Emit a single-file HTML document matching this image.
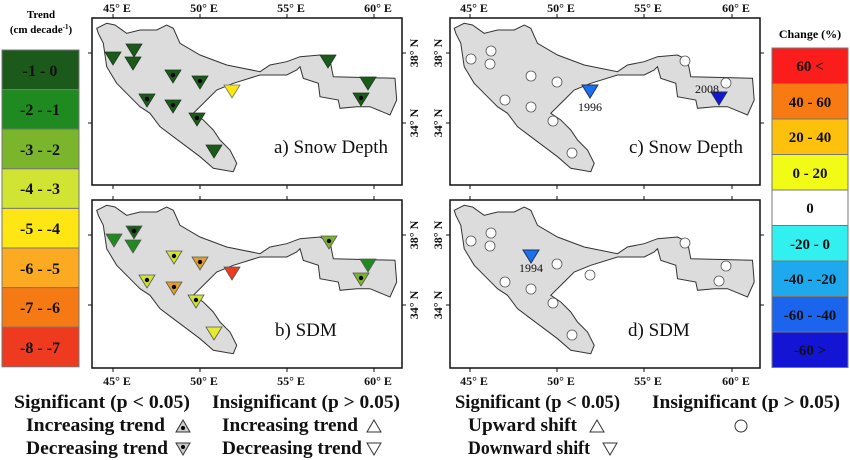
<!DOCTYPE html>
<html><head><meta charset="utf-8"><style>
body{margin:0;background:#fff;}
svg{display:block;font-family:"Liberation Serif",serif;}
.b{font-weight:bold;}
</style></head><body>
<svg width="850" height="460" viewBox="0 0 850 460" xmlns="http://www.w3.org/2000/svg">
<defs>
<path id="shp" d="M96.7,28.3 L106.7,23.3 115,25 126.7,33.3 140,30 156.7,30 166.7,25 173.3,28.3 180,43.3 200,55 226.7,65 260,71.7 270,65 286.7,61.7 300,56.7 320,55 330,60 333.3,76.7 395,78.3 396.7,100 390,115 370,106.7 356.7,106.7 340,108.3 338.3,100 320,96.7 318.3,83.3 303.3,78.3 300,66.7 296.7,70 286.7,75 260,75 233.3,83.3 216.7,90 206.7,100 193.3,113.3 203.3,120 213.3,130 220,140 230,150 236.7,163.3 233.3,171.7 223.3,170 213.3,168.3 200,156.7 186.7,146.7 173.3,136.7 160,126.7 150,113.3 140,106.7 130,96.7 116.7,83.3 106.7,66.7 103.3,43.3 98.3,33.3 Z" fill="#dcdcdc" stroke="#333" stroke-width="1"/>
<path id="tri" d="M-8,-6 L8,-6 L0,7 Z"/>
</defs>

<text x="41" y="18" text-anchor="middle" font-size="11" class="b">Trend</text>
<text x="41" y="33" text-anchor="middle" font-size="11" class="b">(cm decade<tspan font-size="7" dy="-4">-1</tspan><tspan dy="4">)</tspan></text>
<g stroke="#777" stroke-width="1">
<rect x="2" y="50" width="77" height="39.6" fill="#1b5a1b"/>
<rect x="2" y="89.6" width="77" height="39.6" fill="#1f8a20"/>
<rect x="2" y="129.2" width="77" height="39.6" fill="#7bb52c"/>
<rect x="2" y="168.8" width="77" height="39.6" fill="#d2e433"/>
<rect x="2" y="208.4" width="77" height="39.6" fill="#fde613"/>
<rect x="2" y="248" width="77" height="39.6" fill="#fbaa22"/>
<rect x="2" y="287.6" width="77" height="39.6" fill="#f57a14"/>
<rect x="2" y="327.2" width="77" height="39.6" fill="#ee3a1e"/>
</g>
<g font-size="16" class="b" text-anchor="middle" fill="#111">
<text x="40" y="76">-1  -  0</text>
<text x="40" y="115">-2  -  -1</text>
<text x="40" y="155">-3  -  -2</text>
<text x="40" y="194">-4  -  -3</text>
<text x="40" y="234">-5  -  -4</text>
<text x="40" y="274">-6  -  -5</text>
<text x="40" y="313">-7  -  -6</text>
<text x="40" y="353">-8  -  -7</text>
</g>

<text x="810" y="38" text-anchor="middle" font-size="12" class="b">Change (%)</text>
<g stroke="#777" stroke-width="1">
<rect x="772" y="48" width="76" height="35.5" fill="#fb1c1c"/>
<rect x="772" y="83.5" width="76" height="35.5" fill="#f87a12"/>
<rect x="772" y="119" width="76" height="35.5" fill="#fdc00c"/>
<rect x="772" y="154.5" width="76" height="35.5" fill="#f2fb16"/>
<rect x="772" y="190" width="76" height="35.5" fill="#fff"/>
<rect x="772" y="225.5" width="76" height="35.5" fill="#33f0f0"/>
<rect x="772" y="261" width="76" height="35.5" fill="#1ea8ee"/>
<rect x="772" y="296.5" width="76" height="35.5" fill="#1a64ee"/>
<rect x="772" y="332" width="76" height="35.5" fill="#1414d4"/>
</g>
<g font-size="15" class="b" text-anchor="middle" fill="#111">
<text x="810" y="71">60 &lt;</text>
<text x="810" y="107">40 - 60</text>
<text x="810" y="142">20 - 40</text>
<text x="810" y="178">0 - 20</text>
<text x="810" y="213">0</text>
<text x="810" y="249">-20 - 0</text>
<text x="810" y="284">-40 - -20</text>
<text x="810" y="320">-60 - -40</text>
<text x="810" y="355">-60 &gt;</text>
</g>

<rect x="92" y="18" width="310" height="167" fill="#fff" stroke="#111" stroke-width="1.5"/>
<use href="#shp"/>
<rect x="92" y="200" width="310" height="168" fill="#fff" stroke="#111" stroke-width="1.5"/>
<use href="#shp" transform="translate(0,182)"/>
<rect x="450" y="18" width="310" height="167" fill="#fff" stroke="#111" stroke-width="1.5"/>
<use href="#shp" transform="translate(357.5,0)"/>
<rect x="450" y="200" width="310" height="168" fill="#fff" stroke="#111" stroke-width="1.5"/>
<use href="#shp" transform="translate(357.5,182)"/>

<g stroke="#111" stroke-width="1">
<path d="M113,14v4 M200,14v4 M287,14v4 M374,14v4 M113,185v4 M200,185v4 M287,185v4 M374,185v4 M113,196v4 M200,196v4 M287,196v4 M374,196v4 M113,368v4 M200,368v4 M287,368v4 M374,368v4"/>
<path d="M402,53h4 M402,123h4 M402,235h4 M402,305h4 M92,53h-4 M92,123h-4 M92,235h-4 M92,305h-4"/>
<path d="M470,14v4 M557,14v4 M644,14v4 M732,14v4 M470,185v4 M557,185v4 M644,185v4 M732,185v4 M470,196v4 M557,196v4 M644,196v4 M732,196v4 M470,368v4 M557,368v4 M644,368v4 M732,368v4"/>
<path d="M450,53h-4 M450,123h-4 M450,235h-4 M450,305h-4 M760,53h4 M760,123h4 M760,235h4 M760,305h4"/>
</g>
<g font-size="12" class="b" fill="#111" text-anchor="middle">
<text x="117" y="12">45° E</text><text x="204" y="12">50° E</text><text x="291" y="12">55° E</text><text x="378" y="12">60° E</text>
<text x="117" y="385">45° E</text><text x="204" y="385">50° E</text><text x="291" y="385">55° E</text><text x="378" y="385">60° E</text>
<text x="474" y="12">45° E</text><text x="561" y="12">50° E</text><text x="648" y="12">55° E</text><text x="736" y="12">60° E</text>
<text x="474" y="385">45° E</text><text x="561" y="385">50° E</text><text x="648" y="385">55° E</text><text x="736" y="385">60° E</text>
<text transform="translate(418,53) rotate(-90)">38° N</text>
<text transform="translate(418,123) rotate(-90)">34° N</text>
<text transform="translate(418,235) rotate(-90)">38° N</text>
<text transform="translate(418,305) rotate(-90)">34° N</text>
<text transform="translate(442,53) rotate(-90)">38° N</text>
<text transform="translate(442,123) rotate(-90)">34° N</text>
<text transform="translate(442,235) rotate(-90)">38° N</text>
<text transform="translate(442,305) rotate(-90)">34° N</text>
</g>

<g font-size="19" fill="#111">
<text x="274" y="153">a) Snow Depth</text>
<text x="275" y="336">b) SDM</text>
<text x="629" y="153">c) Snow Depth</text>
<text x="628" y="336">d) SDM</text>
</g>

<g stroke="#1b3a1b" stroke-width="0.8" fill="#1b5a1b">
<use href="#tri" x="113" y="58"/><use href="#tri" x="134" y="50"/><use href="#tri" x="133" y="63"/>
<use href="#tri" x="173" y="76"/><use href="#tri" x="200" y="82"/>
<use href="#tri" x="147" y="100"/><use href="#tri" x="173" y="106"/><use href="#tri" x="197" y="119"/>
<use href="#tri" x="214" y="151"/><use href="#tri" x="328" y="61"/><use href="#tri" x="368" y="83"/><use href="#tri" x="361" y="99"/>
<use href="#tri" x="232" y="91" fill="#fde613" stroke="#776"/>
</g>
<g fill="#000">
<circle cx="173" cy="75" r="2.2"/><circle cx="200" cy="81" r="2.2"/><circle cx="147" cy="99" r="2.2"/><circle cx="173" cy="105" r="2.2"/><circle cx="197" cy="118" r="2.2"/><circle cx="361" cy="98" r="2.2"/>
</g>

<g stroke="#555" stroke-width="0.8">
<use href="#tri" x="114" y="240" fill="#1f8a20"/>
<use href="#tri" x="134" y="232" fill="#1b5a1b"/>
<use href="#tri" x="133" y="246" fill="#1f8a20"/>
<use href="#tri" x="174" y="257" fill="#d2e433"/>
<use href="#tri" x="200" y="263" fill="#e0a030"/>
<use href="#tri" x="232" y="273" fill="#ee3a1e"/>
<use href="#tri" x="147" y="281" fill="#d2e433"/>
<use href="#tri" x="174" y="288" fill="#e0a030"/>
<use href="#tri" x="196" y="301" fill="#d2e433"/>
<use href="#tri" x="214" y="333" fill="#e6ea30"/>
<use href="#tri" x="329" y="242" fill="#7bb52c"/>
<use href="#tri" x="368" y="265" fill="#1f8a20"/>
<use href="#tri" x="361" y="279" fill="#7bb52c"/>
</g>
<g fill="#000">
<circle cx="134" cy="231" r="2.2"/><circle cx="174" cy="256" r="2.2"/><circle cx="200" cy="262" r="2.2"/><circle cx="147" cy="280" r="2.2"/><circle cx="174" cy="287" r="2.2"/><circle cx="196" cy="300" r="2.2"/><circle cx="329" cy="241" r="2.2"/><circle cx="361" cy="278" r="2.2"/>
</g>

<g fill="#fff" stroke="#555" stroke-width="0.8">
<circle cx="471" cy="59" r="5"/><circle cx="491" cy="51" r="5"/><circle cx="490" cy="64" r="5"/><circle cx="531" cy="76" r="5"/><circle cx="557" cy="82" r="5"/><circle cx="505" cy="100" r="5"/><circle cx="531" cy="107" r="5"/><circle cx="553" cy="121" r="5"/><circle cx="572" cy="153" r="5"/><circle cx="685" cy="61" r="5"/><circle cx="726" cy="83" r="5"/>
</g>
<use href="#tri" x="590" y="91" fill="#1a70f0" stroke="#235"/>
<use href="#tri" x="719" y="98" fill="#1414d4" stroke="#235"/>
<g font-size="12" fill="#111" text-anchor="middle">
<text x="590" y="111">1996</text><text x="707" y="93">2008</text>
<text x="531" y="272">1994</text>
</g>

<g fill="#fff" stroke="#555" stroke-width="0.8">
<circle cx="471" cy="241" r="5"/><circle cx="491" cy="233" r="5"/><circle cx="490" cy="246" r="5"/><circle cx="557" cy="264" r="5"/><circle cx="505" cy="282" r="5"/><circle cx="531" cy="289" r="5"/><circle cx="553" cy="303" r="5"/><circle cx="572" cy="335" r="5"/><circle cx="590" cy="275" r="5"/><circle cx="685" cy="243" r="5"/><circle cx="726" cy="266" r="5"/><circle cx="719" cy="281" r="5"/>
</g>
<use href="#tri" x="531" y="256" fill="#1a70f0" stroke="#235"/>

<g font-size="19" class="b" fill="#111">
<text x="14" y="408" textLength="176" lengthAdjust="spacingAndGlyphs">Significant (p &lt; 0.05)</text>
<text x="212" y="408" textLength="188" lengthAdjust="spacingAndGlyphs">Insignificant (p &gt; 0.05)</text>
<text x="26" y="431" textLength="139" lengthAdjust="spacingAndGlyphs">Increasing trend</text>
<text x="222" y="431" textLength="136" lengthAdjust="spacingAndGlyphs">Increasing trend</text>
<text x="26" y="454" textLength="142" lengthAdjust="spacingAndGlyphs">Decreasing trend</text>
<text x="222" y="454" textLength="140" lengthAdjust="spacingAndGlyphs">Decreasing trend</text>
<text x="455" y="408" textLength="165" lengthAdjust="spacingAndGlyphs">Significant (p &lt; 0.05)</text>
<text x="652" y="408" textLength="188" lengthAdjust="spacingAndGlyphs">Insignificant (p &gt; 0.05)</text>
<text x="468" y="431" textLength="109" lengthAdjust="spacingAndGlyphs">Upward shift</text>
<text x="468" y="454" textLength="122" lengthAdjust="spacingAndGlyphs">Downward shift</text>
</g>
<g stroke="#333" stroke-width="1" fill="#fff">
<path d="M176,432 L190,432 L183,420 Z" fill="#ccc"/>
<path d="M176,443 L190,443 L183,455 Z" fill="#ccc"/>
<path d="M367,432 L381,432 L374,420 Z"/>
<path d="M367,443 L381,443 L374,455 Z"/>
<path d="M590,432 L604,432 L597,420 Z"/>
<path d="M603,443 L617,443 L610,455 Z"/>
<circle cx="741" cy="426" r="6"/>
</g>
<g fill="#000"><circle cx="183" cy="428" r="2"/><circle cx="183" cy="447" r="2"/></g>
</svg>
</body></html>
